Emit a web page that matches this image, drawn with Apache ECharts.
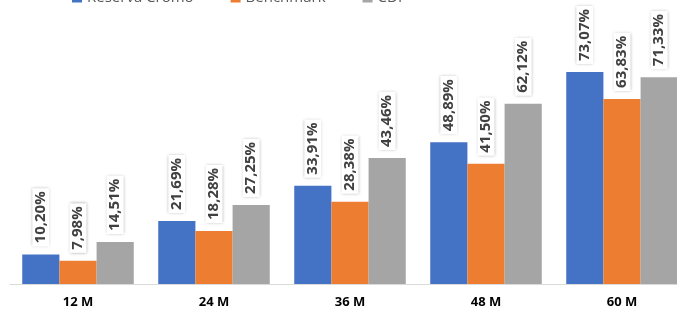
<!DOCTYPE html>
<html>
<head>
<meta charset="utf-8">
<script src="https://cdn.jsdelivr.net/npm/echarts@6/dist/echarts.min.js"></script>
<style>
html,body{margin:0;padding:0;background:#fff;}
#container{width:677px;height:311px;}
</style>
</head>
<body>
<div id="container"></div>
<script>
var categories = ['12 M', '24 M', '36 M', '48 M', '60 M'];
var reservaCromo = [10.20, 21.69, 33.91, 48.89, 73.07];
var benchmark = [7.98, 18.28, 28.38, 41.50, 63.83];
var cdi = [14.51, 27.25, 43.46, 62.12, 71.33];

var chart = echarts.init(document.getElementById('container'));

function pct(p) {
	return p.value.toFixed(2).replace('.', ',') + '%';
}

var labelStyle = {
	show: true,
	position: 'top',
	rotate: 90,
	align: 'left',
	verticalAlign: 'middle',
	distance: 8,
	formatter: pct,
	fontFamily: 'Open Sans',
	fontWeight: 'bold',
	fontSize: 15,
	color: '#404040',
	backgroundColor: '#fff',
	padding: [1, 3, 1, 3],
	shadowColor: 'rgba(0,0,0,0.35)',
	shadowBlur: 3
};

function mkSeries(name, data, color) {
	return {
		name: name,
		type: 'bar',
		data: data,
		barGap: '0%',
		barCategoryGap: '18%',
		itemStyle: {color: color},
		label: labelStyle
	};
}

var option = {
	animation: false,
	legend: {
		top: -15,
		left: 67,
		itemWidth: 10,
		itemHeight: 10,
		itemGap: 37,
		icon: 'rect',
		textStyle: {fontFamily: 'Open Sans', fontSize: 15, color: '#595959'},
		data: ['Reserva Cromo', 'Benchmark', 'CDI']
	},
	grid: {left: 10, top: 52, width: 680, height: 232, outerBoundsMode: 'none', containLabel: false},
	xAxis: {
		type: 'category',
		data: categories,
		axisLine: {lineStyle: {color: '#d9d9d9'}},
		axisTick: {show: false},
		axisLabel: {margin: 12, fontFamily: 'Open Sans', fontWeight: 'bold', fontSize: 13, color: '#000'}
	},
	yAxis: {
		type: 'value',
		min: 0,
		max: 80,
		show: false
	},
	series: [
		mkSeries('Reserva Cromo', reservaCromo, '#4472C4'),
		mkSeries('Benchmark', benchmark, '#ED7D31'),
		mkSeries('CDI', cdi, '#A5A5A5')
	]
};
chart.setOption(option);
</script>
</body>
</html>
